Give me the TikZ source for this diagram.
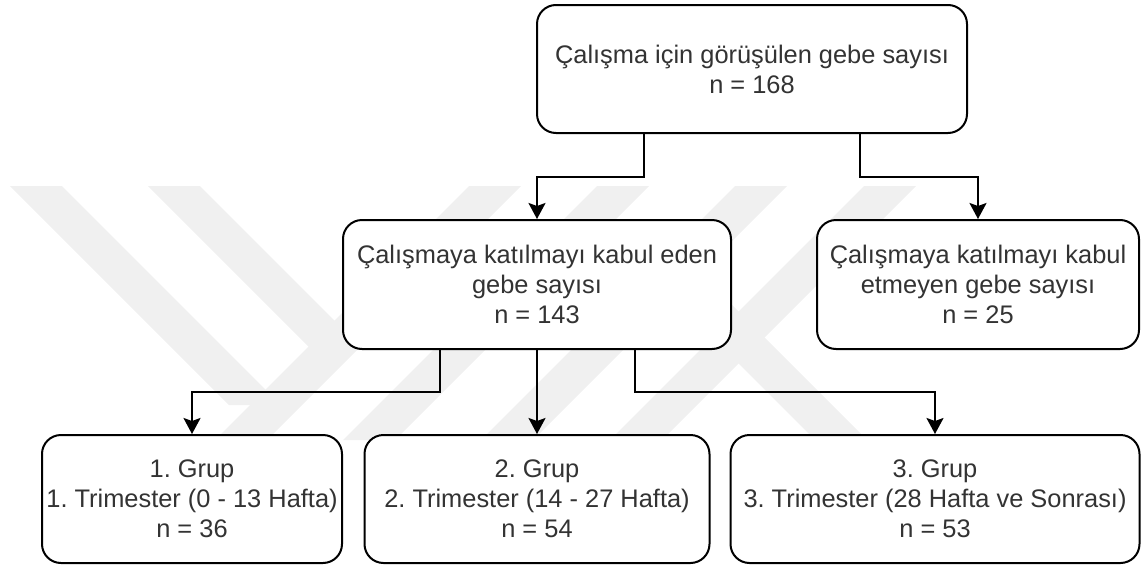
\documentclass[tikz,border=0pt]{standalone}
\usepackage{fontspec}
\setmainfont{Liberation Sans}
\frenchspacing
\usetikzlibrary{calc,arrows.meta}
\def\serit(#1,#2)(#3,#4){\fill[iz] (#1-26,#2) -- (#1+26,#2) -- (#3+26,#4) -- (#3-26,#4) -- cycle;}

\tikzset{
	kutu/.style={draw, line width=1pt, rounded corners=9.5pt, fill=white, align=center, inner sep=0pt,
		text=black!80, font=\fontsize{12.7}{15}\selectfont},
	ok/.style={line width=1pt, -{Stealth[length=8pt,width=8.5pt,inset=1.5pt]}},
	iz/.style={fill=black!6},
}

\begin{document}
\begin{tikzpicture}[x=0.5pt, y=-0.5pt]
			%%%%% START %%%%%
			\useasboundingbox (0,0) rectangle (1142,568);
			
			% faint watermark behind the chart
			\serit(36,186)(255,405)
			\serit(174,186)(338,350)
			\serit(495,186)(241,440)
			\serit(623,186)(369,440)
			\serit(761,186)(507,440)
			\serit(890,186)(636,440)
			\serit(691,290)(841,440)
			
			\node[kutu, minimum width=215pt, minimum height=64pt] (top) at (752,69)
				{Çalışma için görüşülen gebe sayısı\\n = 168};
			
			\node[kutu, minimum width=194pt, minimum height=64.5pt] (kabul) at (537,284.5)
				{Çalışmaya katılmayı kabul eden\\gebe sayısı\\n = 143};
			\node[kutu, minimum width=161pt, minimum height=64.5pt] (red) at (978,284.5)
				{Çalışmaya katılmayı kabul\\etmeyen gebe sayısı\\n = 25};
			
			\node[kutu, minimum width=150pt, minimum height=64pt] (g1) at (192,499)
				{1. Grup\\1. Trimester (0 - 13 Hafta)\\n = 36};
			\node[kutu, minimum width=172.5pt, minimum height=64pt] (g2) at (537,499)
				{2. Grup\\2. Trimester (14 - 27 Hafta)\\n = 54};
			\node[kutu, minimum width=204.5pt, minimum height=64pt] (g3) at (935,499)
				{3. Grup\\3. Trimester (28 Hafta ve Sonrası)\\n = 53};
			
			\coordinate (y1) at (0,177);
			\coordinate (y2) at (0,392);
			\coordinate (t1) at ($(top.south west)!0.25!(top.south east)$);
			\coordinate (t2) at ($(top.south west)!0.75!(top.south east)$);
			\coordinate (k1) at ($(kabul.south west)!0.25!(kabul.south east)$);
			\coordinate (k2) at ($(kabul.south west)!0.75!(kabul.south east)$);
			
			\draw[ok] (t1) -- (t1 |- y1) -| (kabul.north);
			\draw[ok] (t2) -- (t2 |- y1) -| (red.north);
			
			\draw[ok] (k1) -- (k1 |- y2) -| (g1.north);
			\draw[ok] (kabul.south) -- (g2.north);
			\draw[ok] (k2) -- (k2 |- y2) -| (g3.north);
			%%%%% END %%%%%
\end{tikzpicture}
\end{document}
